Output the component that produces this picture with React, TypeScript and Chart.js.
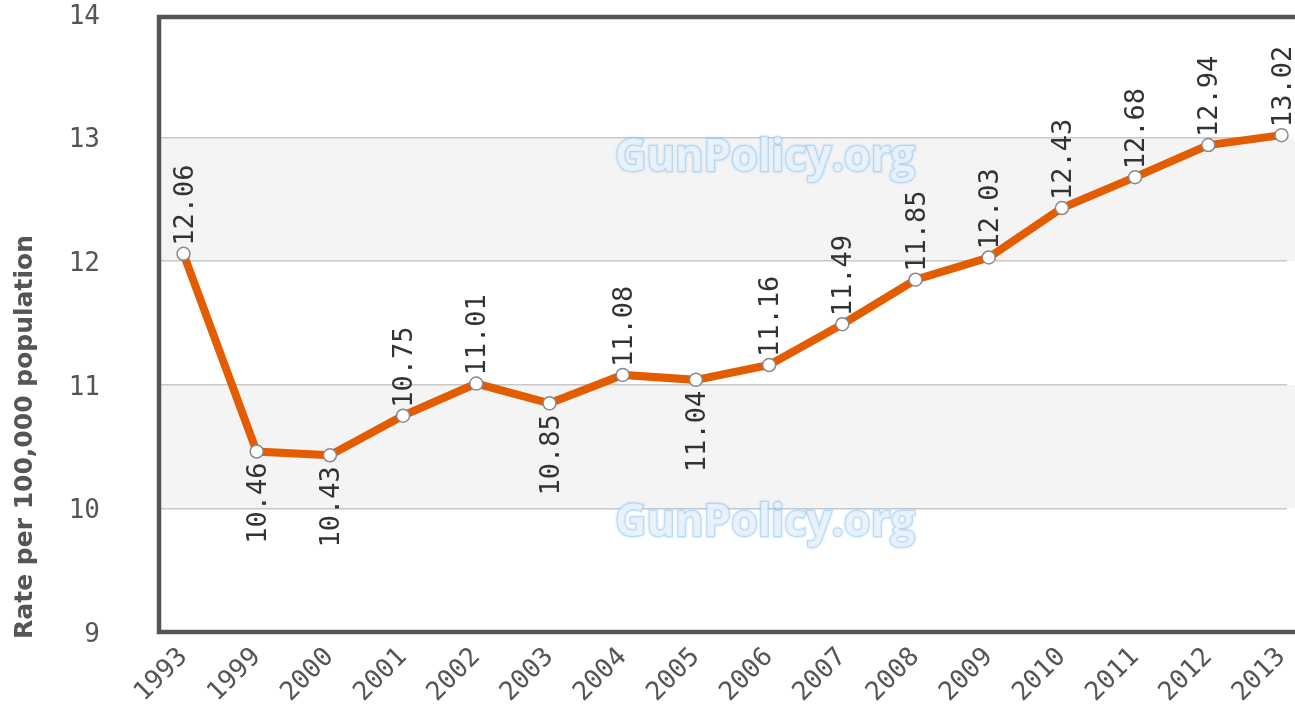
import React, { useEffect, useRef } from "react";
import { Chart, registerables } from "chart.js";

Chart.register(...registerables);

const years = ["1993", "1999", "2000", "2001", "2002", "2003", "2004", "2005", "2006", "2007", "2008", "2009", "2010", "2011", "2012", "2013"];
const rates = [12.06, 10.46, 10.43, 10.75, 11.01, 10.85, 11.08, 11.04, 11.16, 11.49, 11.85, 12.03, 12.43, 12.68, 12.94, 13.02];
const labelBelow = [false, true, true, false, false, true, false, true, false, false, false, false, false, false, false, false];
const yTicks = [9, 10, 11, 12, 13, 14];
const shadedBands = [[12, 13], [10, 11]];
const yTitle = "Rate per 100,000 population";
const watermark = "GunPolicy.org";

const FONT = "'DejaVu Sans', Verdana, sans-serif";
const MONO = "'DejaVu Sans Mono', 'Liberation Mono', monospace";

const zeroPad = (s: any) => {
  s.paddingTop = 0;
  s.paddingBottom = 0;
  s.paddingLeft = 0;
  s.paddingRight = 0;
};

const decorPlugin = {
  id: "decor",
  beforeDraw(chart: any) {
    const { ctx, chartArea, scales } = chart;
    const y = scales.y;
    ctx.save();
    ctx.fillStyle = "#f4f4f4";
    for (const [a, b] of shadedBands) {
      const top = y.getPixelForValue(b);
      const bot = y.getPixelForValue(a);
      ctx.fillRect(chartArea.left, top, chart.width - chartArea.left, bot - top);
    }
    ctx.restore();
  },
  beforeDatasetsDraw(chart: any) {
    const { ctx, scales } = chart;
    const y = scales.y;
    const cx = 765;
    ctx.save();
    ctx.font = `bold 44px 'Open Sans', ${FONT}`;
    const w = ctx.measureText(watermark).width;
    for (const v of [12.83, 9.88]) {
      const cy = y.getPixelForValue(v);
      ctx.save();
      ctx.translate(cx, cy);
      ctx.scale(300 / w, 1);
      ctx.textAlign = "center";
      ctx.textBaseline = "middle";
      ctx.shadowColor = "rgba(120,180,235,0.6)";
      ctx.shadowBlur = 3;
      ctx.lineWidth = 2.5;
      ctx.strokeStyle = "rgba(150,200,240,0.55)";
      ctx.strokeText(watermark, 0, 0);
      ctx.shadowBlur = 0;
      ctx.fillStyle = "rgba(232,242,252,0.9)";
      ctx.fillText(watermark, 0, 0);
      ctx.restore();
    }
    ctx.restore();
  },
  afterDatasetsDraw(chart: any) {
    const { ctx } = chart;
    const meta = chart.getDatasetMeta(0);
    ctx.save();
    ctx.font = `27px ${MONO}`;
    ctx.fillStyle = "#333";
    ctx.textBaseline = "middle";
    meta.data.forEach((pt: any, i: number) => {
      ctx.save();
      ctx.translate(pt.x + 2, pt.y);
      ctx.rotate(-Math.PI / 2);
      const txt = rates[i].toFixed(2);
      if (labelBelow[i]) {
        ctx.textAlign = "right";
        ctx.fillText(txt, -11, 0);
      } else {
        ctx.textAlign = "left";
        ctx.fillText(txt, 8, 0);
      }
      ctx.restore();
    });
    ctx.restore();
  },
  afterDraw(chart: any) {
    const { ctx, chartArea } = chart;
    ctx.save();
    ctx.strokeStyle = "#555";
    ctx.lineWidth = 4.5;
    ctx.beginPath();
    ctx.moveTo(chart.width, chartArea.top + 3);
    ctx.lineTo(chartArea.left + 2, chartArea.top + 3);
    ctx.lineTo(chartArea.left + 2, chartArea.bottom);
    ctx.lineTo(chart.width, chartArea.bottom);
    ctx.stroke();
    ctx.fillStyle = "#555";
    ctx.font = `bold 25px ${FONT}`;
    ctx.translate(25, 437);
    ctx.rotate(-Math.PI / 2);
    ctx.textAlign = "center";
    ctx.textBaseline = "middle";
    ctx.fillText(yTitle, 0, 0);
    ctx.restore();
  },
};

export default function App() {
  const ref = useRef<HTMLCanvasElement>(null);
  useEffect(() => {
    if (!ref.current) return;
    const chart = new Chart(ref.current, {
      type: "line",
      data: {
        datasets: [
          {
            data: rates.map((v, i) => ({ x: i, y: v })),
            borderColor: "#e35c00",
            borderWidth: 8,
            pointRadius: 6.5,
            pointBackgroundColor: "#fff",
            pointBorderColor: "#888",
            pointBorderWidth: 1.5,
            tension: 0,
            clip: false,
          },
        ],
      },
      options: {
        animation: false,
        responsive: true,
        maintainAspectRatio: false,
        layout: { padding: { top: 14, left: 0, right: 0, bottom: 0 } },
        plugins: { legend: { display: false }, tooltip: { enabled: false } },
        scales: {
          x: {
            type: "linear",
            min: -0.362,
            max: 15.075,
            grid: { display: false, drawTicks: false },
            border: { display: false },
            afterBuildTicks: (s: any) => {
              s.ticks = years.map((_, i) => ({ value: i }));
            },
            afterFit: (s: any) => {
              s.height = 79;
              zeroPad(s);
            },
            ticks: {
              autoSkip: false,
              minRotation: 45,
              maxRotation: 45,
              padding: 10,
              color: "#555",
              font: { family: MONO, size: 26 },
              callback: (v: any) => years[v] ?? "",
            },
          },
          y: {
            min: 9,
            max: 14,
            afterBuildTicks: (s: any) => {
              s.ticks = yTicks.map((v) => ({ value: v }));
            },
            afterFit: (s: any) => {
              s.width = 157;
              zeroPad(s);
            },
            grid: {
              drawTicks: false,
              lineWidth: 1.5,
              color: (c: any) => (c.tick && c.tick.value > 9 && c.tick.value < 14 ? "#c8c8c8" : "rgba(0,0,0,0)"),
            },
            border: { display: false },
            ticks: {
              padding: 57,
              labelOffset: 3,
              color: "#555",
              font: { family: MONO, size: 26 },
            },
          },
        },
      },
      plugins: [decorPlugin],
    });
    return () => chart.destroy();
  }, []);
  return (
    <div style={{ position: "absolute", left: 0, top: 0, width: 1295, height: 711, background: "#fff" }}>
      <canvas ref={ref} />
    </div>
  );
}
